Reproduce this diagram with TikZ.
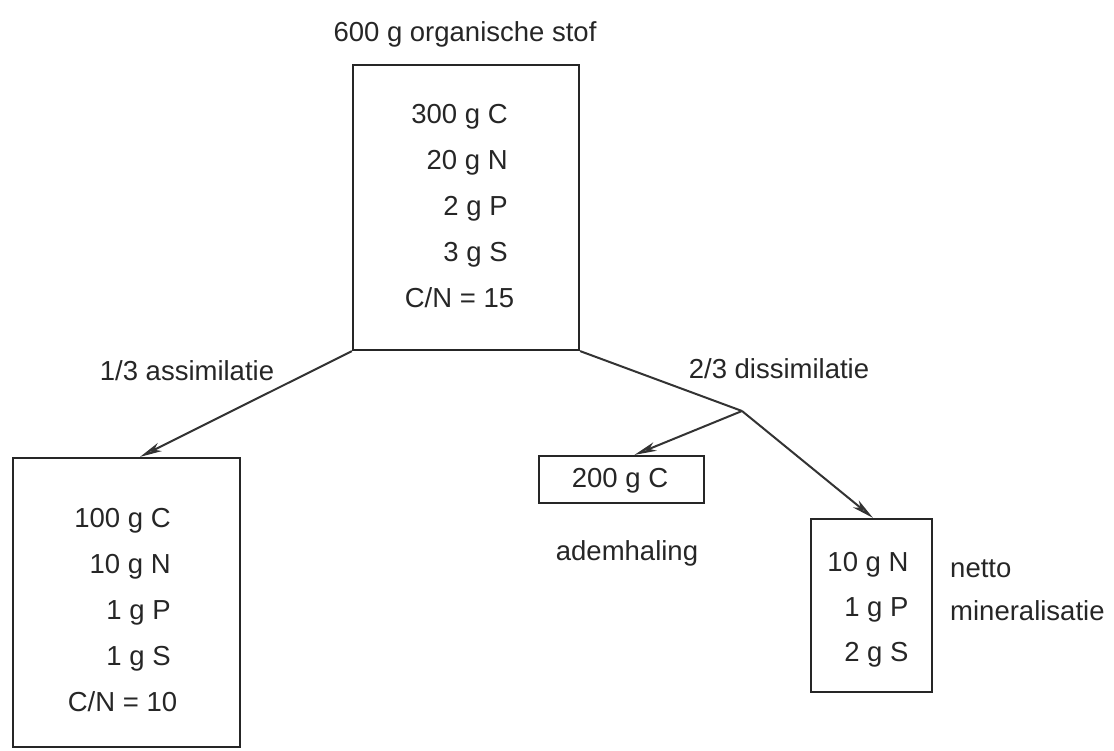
\documentclass[tikz,border=0pt]{standalone}
\usepackage{fontspec}
\setmainfont{Liberation Sans}
\usetikzlibrary{arrows.meta}
\begin{document}
\begin{tikzpicture}[x=1pt,y=-1pt,
  box/.style={draw=black!85, line width=2.2pt, rectangle, inner sep=0pt},
  txt/.style={inner sep=0pt, text=black!85, font=\fontsize{27.5}{46}\selectfont},
  flow/.style={draw=black!80, line width=2pt},
  arr/.style={flow, -{Stealth[length=22pt,width=9pt,inset=6pt,fill=black!50]}},
]
\useasboundingbox (0,0) rectangle (1114,751);
% boxes
\node[box, minimum width=226pt, minimum height=285pt] (top) at (466,207.5) {};
\node[box, minimum width=227pt, minimum height=289pt] (left) at (126.5,602.5) {};
\node[box, minimum width=165pt, minimum height=47pt] (resp) at (621.5,479.5) {};
\node[box, minimum width=121pt, minimum height=173pt] (mine) at (871.5,605.5) {};
% box contents
\node[txt] (topT) at (459.5,206.5) {\begin{tabular}{@{}r@{}}300 g C\\20 g N\\2 g P\\3 g S\\\multicolumn{1}{@{}c@{}}{\makebox[0pt]{C/N = 15}}\end{tabular}};
\node[txt] (leftT) at (122.5,610) {\begin{tabular}{@{}r@{}}100 g C\\10 g N\\1 g P\\1 g S\\\multicolumn{1}{@{}c@{}}{\makebox[0pt]{C/N = 10}}\end{tabular}};
\node[txt] (respT) at (620,481) {200 g C};
\node[txt, font=\fontsize{27.5}{45}\selectfont] (mineT) at (868,607) {\begin{tabular}{@{}r@{}}10 g N\\1 g P\\2 g S\end{tabular}};
% labels
\node[txt, anchor=base] (title) at (465,42) {600 g organische stof};
\node[txt, anchor=base] (assim) at (187,380) {1/3 assimilatie};
\node[txt, anchor=base] (dissim) at (779,378) {2/3 dissimilatie};
\node[txt, anchor=base] (adem) at (627,560) {ademhaling};
\node[txt, anchor=base west, align=left, font=\fontsize{27.5}{43}\selectfont] (netto) at (950,620) {netto\\mineralisatie};
% connectors
\coordinate (branch) at (742,411);
\draw[arr] (top.south west) -- ([xshift=13.5pt]left.north);
\draw[flow] (top.south east) -- (branch);
\draw[arr] (branch) -- ([xshift=13pt]resp.north);
\draw[arr] (branch) -- ([xshift=1.5pt]mine.north);
\end{tikzpicture}
\end{document}
